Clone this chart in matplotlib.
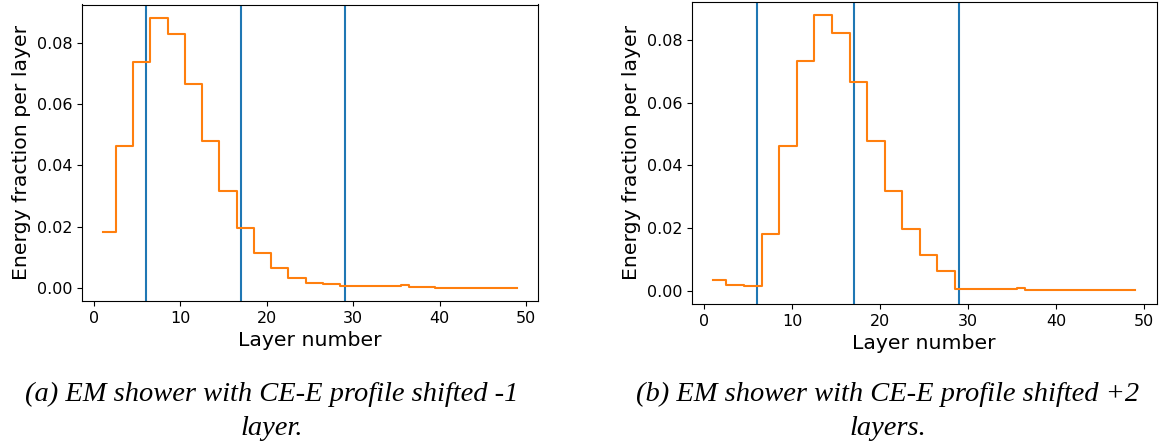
import matplotlib
matplotlib.use("Agg")
import matplotlib.pyplot as plt

layers = list(range(1, 50))

# Energy fraction per layer, EM shower, CE-E profile shifted -1 layer
frac_minus1 = [0.0183, 0.0183, 0.0463, 0.0463, 0.0736, 0.0736, 0.0880, 0.0880,
               0.0827, 0.0827, 0.0666, 0.0666, 0.0479, 0.0479, 0.0316, 0.0316,
               0.0196, 0.0196, 0.0114, 0.0114, 0.0065, 0.0065, 0.0034, 0.0034,
               0.0016, 0.0016, 0.0012, 0.0012,
               0.0005, 0.0005, 0.0005, 0.0005, 0.0005, 0.0005, 0.0007, 0.0009,
               0.0003, 0.0003, 0.0003, 0.0001, 0.0001, 0.0001, 0.0001, 0.0001,
               0.0001, 0.0001, 0.0001, 0.0001, 0.0001]

# Energy fraction per layer, EM shower, CE-E profile shifted +2 layers
frac_plus2 = [0.0035, 0.0035, 0.0017, 0.0017, 0.0014, 0.0014, 0.0182, 0.0182,
              0.0463, 0.0463, 0.0734, 0.0734, 0.0879, 0.0879, 0.0824, 0.0824,
              0.0666, 0.0666, 0.0479, 0.0479, 0.0317, 0.0317, 0.0196, 0.0196,
              0.0115, 0.0115, 0.0064, 0.0064,
              0.0004, 0.0004, 0.0004, 0.0004, 0.0004, 0.0004, 0.0006, 0.0008,
              0.0003, 0.0003, 0.0003, 0.0001, 0.0001, 0.0001, 0.0001, 0.0001,
              0.0001, 0.0001, 0.0001, 0.0001, 0.0001]

boundaries = [6, 17, 29]

captions = ["(a) EM shower with CE-E profile shifted -1\nlayer.",
            "(b) EM shower with CE-E profile shifted +2\nlayers."]

W, H = 1163, 443
fig = plt.figure(figsize=(W / 100, H / 100), dpi=100)

def px_axes(x0, x1, ytop, ybot):
    return fig.add_axes([x0 / W, 1 - ybot / H, (x1 - x0) / W, (ybot - ytop) / H])

ax1 = px_axes(82, 538, 4.5, 301.2)
ax2 = px_axes(692, 1156.6, 1.6, 304.0)

for ax, y in ((ax1, frac_minus1), (ax2, frac_plus2)):
    for b in boundaries:
        ax.axvline(b, color="C0", lw=1.5)
    ax.plot(layers, y, drawstyle="steps-mid", color="C1", lw=1.5)
    ax.set_xlabel("Layer number", fontsize=14.7)
    ax.set_ylabel("Energy fraction per layer", fontsize=14.7)
    ax.tick_params(labelsize=11.5)
    ax.set_xticks([0, 10, 20, 30, 40, 50])
    ax.set_yticks([0.0, 0.02, 0.04, 0.06, 0.08])

capfont = dict(family="Liberation Serif", style="italic", fontsize=20.5,
               ha="center", va="baseline")
for cx, cap in ((272, captions[0]), (888, captions[1])):
    l1, l2 = cap.split("\n")
    fig.text(cx / W, 1 - 401 / H, l1, **capfont)
    fig.text(cx / W, 1 - 435 / H, l2, **capfont)

fig.savefig("out.png", dpi=100)
